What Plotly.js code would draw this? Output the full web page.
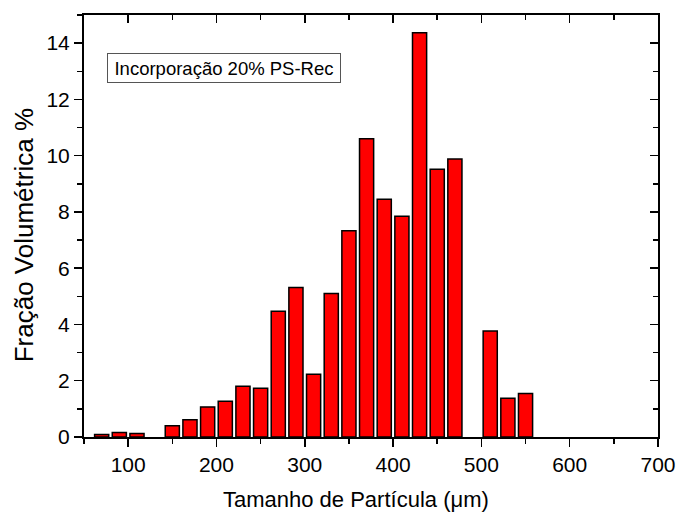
<!DOCTYPE html>
<html>
<head>
<meta charset="utf-8">
<script src="https://cdn.plot.ly/plotly-3.0.1.min.js"></script>
<style>html,body{margin:0;padding:0;background:#fff;}#chart{width:678px;height:515px;}</style>
</head>
<body>
<div id="chart"></div>
<script>
const particleSize = [70, 90, 110, 150, 170, 190, 210, 230, 250, 270, 290, 310, 330, 350, 370, 390, 410, 430, 450, 470, 510, 530, 550];
const volumeFraction = [0.09, 0.16, 0.12, 0.40, 0.61, 1.07, 1.27, 1.80, 1.73, 4.47, 5.31, 2.23, 5.10, 7.33, 10.6, 8.45, 7.85, 14.37, 9.52, 9.88, 3.77, 1.38, 1.55];
const xTickVals = [100, 200, 300, 400, 500, 600, 700];
const yTickVals = [0, 2, 4, 6, 8, 10, 12, 14];
const annotationText = "Incorporação 20% PS-Rec";
const xTitle = "Tamanho de Partícula (μm)";
const yTitle = "Fração Volumétrica %";

const font = "Liberation Sans, Arial, sans-serif";

const trace = {
  type: 'bar',
  x: particleSize,
  y: volumeFraction,
  width: 16,
  marker: {color: '#ff0000', line: {color: '#000000', width: 1.5}},
  hoverinfo: 'x+y'
};

const layout = {
  width: 678, height: 515,
  margin: {l: 84, r: 20, t: 15, b: 78},
  paper_bgcolor: '#ffffff', plot_bgcolor: '#ffffff',
  showlegend: false,
  font: {family: font, color: '#000000', size: 19},
  xaxis: {
    range: [50, 700], tickvals: xTickVals, ticks: 'outside', ticklen: 8, tickwidth: 1.5,
    tickcolor: '#000', showline: true, linecolor: '#000', linewidth: 2, showgrid: false, zeroline: false,
    minor: {dtick: 50, ticks: 'outside', ticklen: 5, tickwidth: 1.5, tickcolor: '#000', showgrid: false},
    tickfont: {size: 21, family: font}
  },
  yaxis: {
    range: [0, 15], tickvals: yTickVals, ticks: 'outside', ticklen: 8, tickwidth: 1.5,
    tickcolor: '#000', showline: true, linecolor: '#000', linewidth: 2, showgrid: false, zeroline: false,
    minor: {dtick: 1, ticks: 'outside', ticklen: 5, tickwidth: 1.5, tickcolor: '#000', showgrid: false},
    tickfont: {size: 21, family: font}
  },
  xaxis2: {
    overlaying: 'x', side: 'top', range: [50, 700], tickvals: xTickVals, ticks: 'inside', ticklen: 8, tickwidth: 1.5,
    tickcolor: '#000', showline: true, linecolor: '#000', linewidth: 2, showgrid: false, zeroline: false, showticklabels: false,
    minor: {dtick: 50, ticks: 'inside', ticklen: 5, tickwidth: 1.5, tickcolor: '#000', showgrid: false}
  },
  yaxis2: {
    overlaying: 'y', side: 'right', range: [0, 15], tickvals: yTickVals, ticks: 'inside', ticklen: 8, tickwidth: 1.5,
    tickcolor: '#000', showline: true, linecolor: '#000', linewidth: 2, showgrid: false, zeroline: false, showticklabels: false,
    minor: {dtick: 1, ticks: 'inside', ticklen: 5, tickwidth: 1.5, tickcolor: '#000', showgrid: false}
  },
  annotations: [{
    text: annotationText, xref: 'paper', yref: 'paper', x: 0.0395, y: 0.911, xanchor: 'left', yanchor: 'top',
    showarrow: false, font: {size: 18.5, family: font, color: '#000'},
    width: 228, height: 24,
    bordercolor: '#555', borderwidth: 1, borderpad: 2, bgcolor: '#fff'
  }, {
    text: xTitle, xref: 'paper', yref: 'paper', x: 0.4745, y: -0.148, xanchor: 'center', yanchor: 'middle',
    showarrow: false, font: {size: 22, family: font, color: '#000'}
  }, {
    text: yTitle, xref: 'paper', yref: 'paper', x: -0.1055, y: 0.479, xanchor: 'center', yanchor: 'middle',
    textangle: -90, showarrow: false, font: {size: 26, family: font, color: '#000'}
  }]
};

const dummy = {type: 'scatter', x: [50], y: [0], xaxis: 'x2', yaxis: 'y2', mode: 'markers', marker: {opacity: 0}, hoverinfo: 'skip'};

Plotly.newPlot('chart', [trace, dummy], layout, {displayModeBar: false, staticPlot: true});
</script>
</body>
</html>
